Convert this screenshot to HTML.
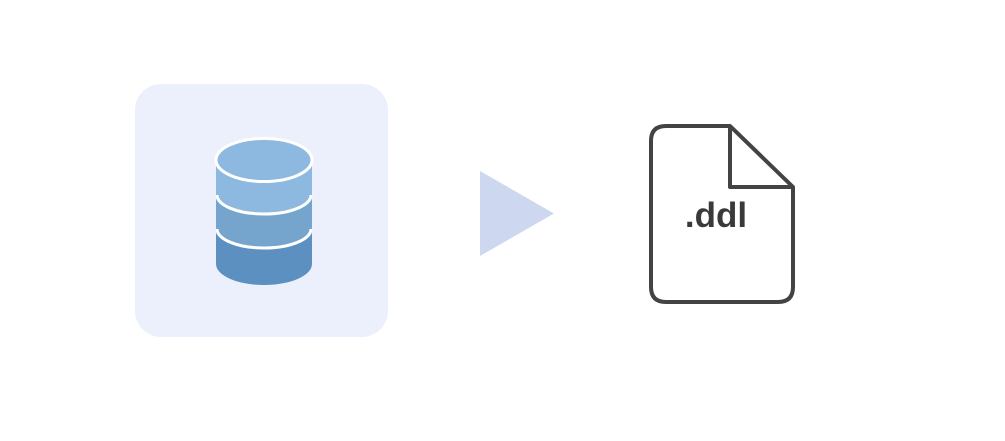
<!DOCTYPE html>
<html><head><style>
html,body{margin:0;padding:0;background:#fff;}
</style></head><body>
<svg width="1005" height="436" viewBox="0 0 1005 436" xmlns="http://www.w3.org/2000/svg">
<rect x="135" y="84" width="253" height="253" rx="26" fill="#ebf0fc"/>
<path d="M216 229 L216 264 A48 21 0 0 0 312 264 L312 229 Z" fill="#5b90c0"/>
<path d="M216 195 L216 229 A48 20 0 0 0 312 229 L312 195 Z" fill="#75a5cd"/>
<path d="M216 160 L216 195 A48 20 0 0 0 312 195 L312 160 Z" fill="#8db8e0"/>
<path d="M217 229 A47 19 0 0 0 311 229" fill="none" stroke="#fff" stroke-width="3"/>
<path d="M217 195 A47 19 0 0 0 311 195" fill="none" stroke="#fff" stroke-width="3"/>
<ellipse cx="264" cy="160" rx="48" ry="21.5" fill="#8db8e0" stroke="#fff" stroke-width="3"/>
<polygon points="480,171 554,213.5 480,256" fill="#cdd8f0"/>
<path d="M730 126 L666 126 Q651 126 651 141 L651 287 Q651 302 666 302 L778 302 Q793 302 793 287 L793 187 Z M730 126 L730 187 L793 187" fill="none" stroke="#434343" stroke-width="4" stroke-linejoin="round"/>
<text x="716" y="227" text-anchor="middle" font-family="Liberation Sans, sans-serif" font-weight="bold" font-size="35" fill="#3a3a3a">.ddl</text>
</svg>
</body></html>
